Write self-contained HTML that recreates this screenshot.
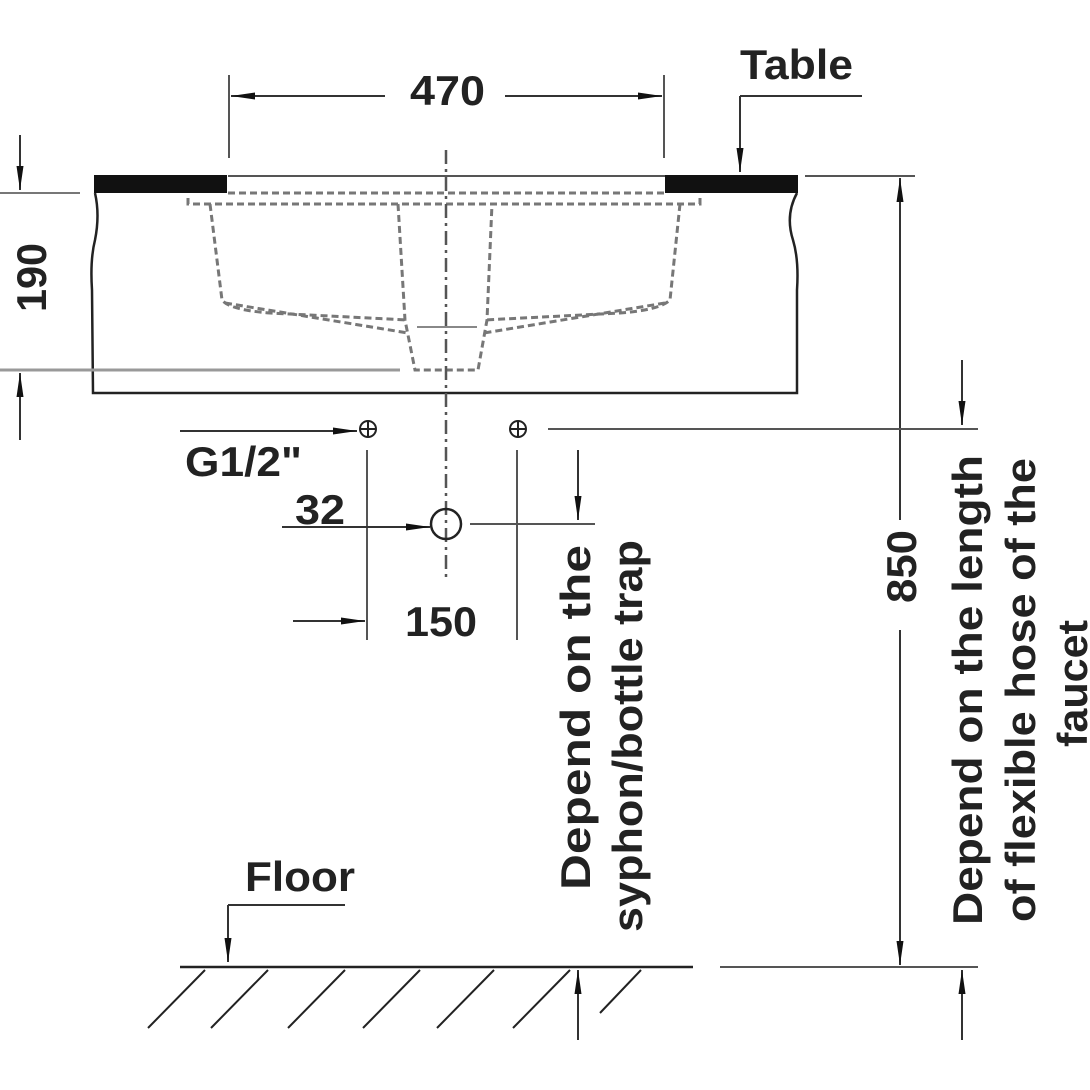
<!DOCTYPE html>
<html><head><meta charset="utf-8"><style>
html,body{margin:0;padding:0;background:#fff;}
svg{display:block;}
text{font-family:"Liberation Sans",sans-serif;font-weight:bold;fill:#222;}
</style></head><body>
<svg width="1090" height="1090" viewBox="0 0 1090 1090" xmlns="http://www.w3.org/2000/svg">
<defs>
<marker id="a" viewBox="0 0 24 10" refX="24" refY="5" markerWidth="24" markerHeight="10" markerUnits="userSpaceOnUse" orient="auto" preserveAspectRatio="none">
<path d="M0,1.5 L24,5 L0,8.5 z" fill="#111"/></marker>
</defs>
<g stroke="#333" stroke-width="2" fill="none">
<line x1="229" y1="75" x2="229" y2="158" stroke="#555"/>
<line x1="664" y1="75" x2="664" y2="158" stroke="#555"/>
<line x1="385" y1="96" x2="231" y2="96" marker-end="url(#a)"/>
<line x1="505" y1="96" x2="662" y2="96" marker-end="url(#a)"/>
<line x1="740" y1="96" x2="862" y2="96"/>
<line x1="740" y1="96" x2="740" y2="172" marker-end="url(#a)"/>
<path d="M95,193 Q100,215 95,240 Q90,260 92,290 L93,393 L797,393 L797,290 Q799,260 793,240 Q785,215 797,193" stroke="#222" stroke-width="2.5"/>
<line x1="228" y1="176" x2="665" y2="176" stroke="#555"/>
<g stroke="#777" stroke-width="3" stroke-dasharray="7,4">
<line x1="228" y1="193" x2="665" y2="193"/>
<path d="M188,198 L188,204 L700,204 L700,198"/>
<path d="M210,204 L222,300 Q230,310 270,313 L408,320"/>
<path d="M680,204 L670,300 Q660,310 620,313 L484,320"/>
<path d="M225,303 L408,333"/>
<path d="M665,303 L484,333"/>
<path d="M398,204 L405,320 L415,370 L478,370 L487,320 L492,204"/>
</g>
<line x1="417" y1="327" x2="477" y2="327" stroke="#888" stroke-width="2"/>
<line x1="446" y1="150" x2="446" y2="580" stroke="#555" stroke-width="2.5" stroke-dasharray="14,5,3,5"/>
<line x1="0" y1="193" x2="80" y2="193" stroke="#777"/>
<line x1="0" y1="370" x2="400" y2="370" stroke="#999" stroke-width="3"/>
<line x1="20" y1="135" x2="20" y2="190" marker-end="url(#a)"/>
<line x1="20" y1="440" x2="20" y2="373" marker-end="url(#a)"/>
<line x1="805" y1="176" x2="915" y2="176" stroke="#555"/>
<line x1="720" y1="967" x2="978" y2="967" stroke="#555"/>
<line x1="900" y1="520" x2="900" y2="178" marker-end="url(#a)"/>
<line x1="900" y1="630" x2="900" y2="965" marker-end="url(#a)"/>
<line x1="962" y1="360" x2="962" y2="425" marker-end="url(#a)"/>
<line x1="548" y1="429" x2="978" y2="429" stroke="#555"/>
<line x1="962" y1="1040" x2="962" y2="970" marker-end="url(#a)"/>
<line x1="180" y1="431" x2="357" y2="431" marker-end="url(#a)"/>
<line x1="367" y1="450" x2="367" y2="640" stroke="#555"/>
<line x1="517" y1="450" x2="517" y2="640" stroke="#555"/>
<circle cx="446" cy="524" r="15" stroke="#222" stroke-width="2.5"/>
<line x1="282" y1="527" x2="430" y2="527" marker-end="url(#a)"/>
<line x1="470" y1="524" x2="595" y2="524" stroke="#555"/>
<line x1="578" y1="450" x2="578" y2="520" marker-end="url(#a)"/>
<line x1="293" y1="621" x2="365" y2="621" marker-end="url(#a)"/>
<line x1="228" y1="905" x2="345" y2="905"/>
<line x1="228" y1="905" x2="228" y2="962" marker-end="url(#a)"/>
<line x1="180" y1="967" x2="693" y2="967" stroke="#222" stroke-width="2.5"/>
<g stroke="#222">
<line x1="205" y1="970" x2="148" y2="1028"/>
<line x1="268" y1="970" x2="211" y2="1028"/>
<line x1="345" y1="970" x2="288" y2="1028"/>
<line x1="420" y1="970" x2="363" y2="1028"/>
<line x1="494" y1="970" x2="437" y2="1028"/>
<line x1="570" y1="970" x2="513" y2="1028"/>
<line x1="641" y1="970" x2="600" y2="1013"/>
</g>
<line x1="578" y1="1040" x2="578" y2="970" marker-end="url(#a)"/>
</g>
<rect x="94" y="175" width="133" height="18" fill="#111"/>
<rect x="665" y="175" width="133" height="18" fill="#111"/>
<g stroke="#222" stroke-width="2" fill="none">
<circle cx="368" cy="429" r="8"/><line x1="360" y1="429" x2="376" y2="429"/><line x1="368" y1="421" x2="368" y2="437"/>
<circle cx="518" cy="429" r="8"/><line x1="510" y1="429" x2="526" y2="429"/><line x1="518" y1="421" x2="518" y2="437"/>
</g>
<g font-size="42">
<text x="410" y="105" textLength="75" lengthAdjust="spacingAndGlyphs">470</text>
<text x="740" y="79" textLength="113" lengthAdjust="spacingAndGlyphs">Table</text>
<text transform="translate(46,312) rotate(-90)" textLength="69" lengthAdjust="spacingAndGlyphs">190</text>
<text transform="translate(916,603) rotate(-90)" textLength="73" lengthAdjust="spacingAndGlyphs">850</text>
<text x="185" y="476" textLength="117" lengthAdjust="spacingAndGlyphs">G1/2"</text>
<text x="295" y="524" textLength="50" lengthAdjust="spacingAndGlyphs">32</text>
<text x="405" y="636" textLength="72" lengthAdjust="spacingAndGlyphs">150</text>
<text x="245" y="891" textLength="110" lengthAdjust="spacingAndGlyphs">Floor</text>
<text transform="translate(590,890) rotate(-90)" textLength="345" lengthAdjust="spacingAndGlyphs">Depend on the</text>
<text transform="translate(642,932) rotate(-90)" textLength="392" lengthAdjust="spacingAndGlyphs">syphon/bottle trap</text>
<text transform="translate(982,925) rotate(-90)" textLength="470" lengthAdjust="spacingAndGlyphs">Depend on the length</text>
<text transform="translate(1035,922) rotate(-90)" textLength="464" lengthAdjust="spacingAndGlyphs">of flexible hose of the</text>
<text transform="translate(1087,747) rotate(-90)" textLength="127" lengthAdjust="spacingAndGlyphs">faucet</text>
</g>
</svg>
</body></html>
